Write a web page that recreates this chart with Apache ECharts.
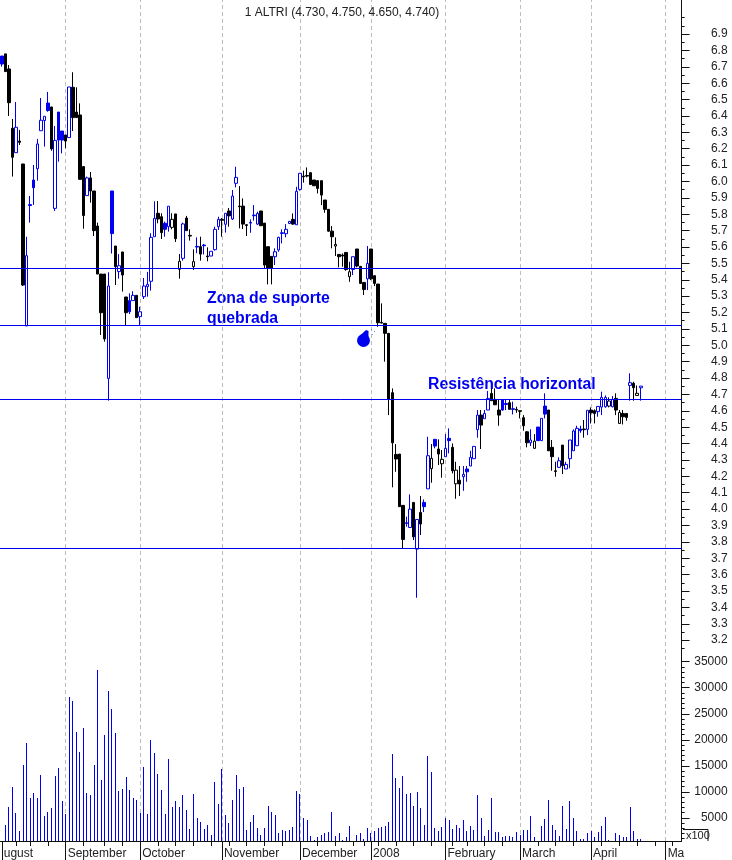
<!DOCTYPE html>
<html><head><meta charset="utf-8">
<script src="https://cdn.jsdelivr.net/npm/echarts@6/dist/echarts.min.js"></script>
<style>html,body{margin:0;padding:0;background:#fff}#c{width:732px;height:860px}</style>
</head><body><div id="c"></div>
<script>
const titleText = '1 ALTRI (4.730, 4.750, 4.650, 4.740)';
const dayCount = 192;
const monthIndex = [0,18,39,62,84,104,125,146,166,187];
const monthNames = ['ugust','September','October','November','December','2008','February','March','April','Ma'];
const weekIndex = [4,8,13,23,29,34,44,49,54,59,64,69,74,79,89,94,99,102,106,111,116,121,127,131,136,141,151,156,161,169,174,179,184,189];
// a blue filled, b blue hollow, k black filled, w black hollow
const styles = 'akkkbkkbaa'+'bbbakbaakb'+'kkkkbkkkkk'+'bakbkkabkb'+'bbbbkkabwk'+'wbkkwakakb'+'bbkbkbbkkk'+'aabkkkkbba'+'bbkbbkkkkk'+'kkkkwkkkwb'+'kkkbkkkkkk'+'kkkkabkbka'+'bwakwbakwk'+'babbbkbbkk'+'kaakakkkkb'+'wabakkkbkb'+'bbbakbkkbb'+'bwbkwkkbkw'+'b';
const highs = [6.766,6.779,6.711,6.382,6.485,6.315,6.107,5.663,5.912,6.101,
6.260,6.510,6.398,6.547,6.455,6.339,6.424,6.308,6.284,6.577,
6.667,6.575,6.477,6.091,6.030,6.058,5.942,5.749,5.435,5.435,
5.446,5.942,5.606,5.557,5.570,5.295,5.317,5.330,5.305,5.236,
5.411,5.448,5.684,5.879,5.881,5.806,5.755,5.849,5.806,5.802,
5.557,5.749,5.790,5.708,5.586,5.659,5.663,5.619,5.598,5.574,
5.724,5.785,5.777,5.806,5.838,5.948,6.090,5.972,5.897,5.740,
5.769,5.856,5.816,5.820,5.746,5.602,5.543,5.592,5.663,5.708,
5.740,5.757,5.805,5.968,6.050,6.066,6.086,6.054,6.009,6.009,
6.005,5.887,5.830,5.728,5.659,5.555,5.561,5.567,5.510,5.541,
5.588,5.482,5.384,5.606,5.588,5.425,5.374,5.256,5.134,5.073,
4.737,4.397,4.336,4.023,3.954,4.090,4.041,3.937,4.080,4.059,
4.442,4.397,4.426,4.426,4.361,4.458,4.493,4.401,4.289,4.263,
4.263,4.263,4.356,4.383,4.605,4.605,4.605,4.721,4.737,4.737,
4.666,4.670,4.670,4.670,4.656,4.625,4.605,4.574,4.477,4.487,
4.458,4.501,4.554,4.707,4.605,4.422,4.289,4.316,4.391,4.289,
4.422,4.487,4.509,4.509,4.544,4.603,4.621,4.609,4.629,4.717,
4.694,4.682,4.690,4.707,4.605,4.605,4.584,4.829,4.778,4.755,4.751];
const bodyTops = [6.766,6.779,6.687,6.325,6.331,6.247,6.107,5.547,5.859,6.009,
6.229,6.374,6.398,6.479,6.455,6.251,6.424,6.308,6.284,6.577,
6.575,6.424,6.406,6.091,6.022,6.022,5.942,5.728,5.435,5.435,
5.362,5.942,5.606,5.486,5.570,5.295,5.273,5.305,5.305,5.205,
5.362,5.372,5.659,5.775,5.806,5.785,5.745,5.849,5.769,5.802,
5.513,5.741,5.777,5.671,5.511,5.604,5.602,5.612,5.545,5.574,
5.708,5.769,5.769,5.806,5.820,5.911,6.025,5.850,5.850,5.736,
5.750,5.795,5.805,5.820,5.746,5.602,5.543,5.571,5.659,5.687,
5.708,5.757,5.769,5.940,6.050,6.033,6.037,6.054,6.009,6.005,
6.005,5.887,5.830,5.697,5.616,5.555,5.551,5.567,5.449,5.541,
5.588,5.482,5.384,5.500,5.588,5.425,5.374,5.140,5.134,5.073,
4.711,4.334,4.336,4.023,3.917,4.000,4.041,3.937,3.980,4.041,
4.326,4.310,4.426,4.367,4.304,4.371,4.432,4.377,4.238,4.177,
4.212,4.245,4.316,4.383,4.574,4.574,4.584,4.676,4.706,4.670,
4.605,4.666,4.645,4.650,4.613,4.609,4.601,4.558,4.472,4.422,
4.415,4.501,4.554,4.629,4.605,4.377,4.234,4.295,4.391,4.273,
4.422,4.477,4.493,4.489,4.489,4.603,4.605,4.601,4.627,4.682,
4.682,4.660,4.670,4.676,4.590,4.584,4.584,4.772,4.768,4.707,4.751];
const bodyBottoms = [6.717,6.671,6.481,6.148,6.176,6.239,5.368,5.118,5.853,5.962,
6.078,6.310,6.372,6.433,6.199,5.836,6.253,6.253,6.247,6.268,
6.390,6.390,6.013,5.792,5.914,5.942,5.700,5.435,5.199,5.039,
4.798,5.682,5.480,5.450,5.429,5.199,5.205,5.273,5.169,5.175,
5.297,5.358,5.391,5.663,5.771,5.688,5.708,5.724,5.720,5.651,
5.464,5.531,5.700,5.667,5.480,5.600,5.557,5.608,5.541,5.545,
5.584,5.724,5.763,5.739,5.790,5.771,5.989,5.846,5.740,5.732,
5.746,5.791,5.740,5.730,5.490,5.470,5.470,5.541,5.582,5.683,
5.681,5.744,5.740,5.736,5.952,6.029,6.033,5.982,5.974,5.958,
5.917,5.830,5.697,5.663,5.606,5.541,5.545,5.463,5.419,5.463,
5.484,5.378,5.341,5.406,5.406,5.378,5.138,5.136,5.073,4.670,
4.405,4.306,4.015,3.815,3.913,3.888,3.831,3.756,3.909,4.015,
4.124,4.247,4.385,4.336,4.277,4.320,4.418,4.234,4.155,4.153,
4.198,4.228,4.263,4.308,4.485,4.513,4.552,4.605,4.662,4.637,
4.574,4.605,4.639,4.609,4.609,4.605,4.597,4.509,4.405,4.405,
4.371,4.418,4.418,4.580,4.356,4.320,4.230,4.255,4.265,4.245,
4.308,4.356,4.387,4.479,4.485,4.487,4.588,4.584,4.595,4.623,
4.625,4.629,4.625,4.605,4.523,4.564,4.560,4.755,4.741,4.694,4.741];
const lows = [6.701,6.671,6.400,6.030,6.176,6.223,5.362,5.118,5.749,5.857,
6.005,6.310,6.213,6.426,6.188,5.820,6.121,6.172,6.203,6.268,
6.308,6.390,6.013,5.712,5.914,5.871,5.667,5.435,5.063,5.022,
4.662,5.560,5.368,5.407,5.328,5.124,5.191,5.273,5.169,5.124,
5.283,5.297,5.334,5.663,5.745,5.649,5.663,5.694,5.708,5.631,
5.407,5.517,5.700,5.639,5.460,5.562,5.517,5.555,5.513,5.545,
5.578,5.704,5.663,5.688,5.724,5.765,5.964,5.714,5.710,5.667,
5.687,5.761,5.734,5.730,5.470,5.372,5.372,5.490,5.571,5.622,
5.659,5.740,5.736,5.736,5.944,5.993,6.025,5.978,5.974,5.927,
5.856,5.809,5.693,5.592,5.545,5.476,5.480,5.455,5.388,5.429,
5.476,5.374,5.307,5.337,5.398,5.362,5.113,5.134,4.900,4.574,
4.133,4.228,4.015,3.760,3.893,3.888,3.811,3.459,3.842,3.982,
4.124,4.161,4.371,4.269,4.192,4.320,4.340,4.218,4.063,4.080,
4.112,4.167,4.263,4.308,4.436,4.367,4.552,4.605,4.662,4.637,
4.509,4.601,4.605,4.609,4.578,4.588,4.554,4.479,4.377,4.385,
4.371,4.418,4.418,4.554,4.356,4.234,4.198,4.255,4.214,4.245,
4.249,4.356,4.387,4.466,4.436,4.452,4.523,4.523,4.564,4.574,
4.619,4.621,4.621,4.574,4.523,4.517,4.540,4.662,4.662,4.694,4.662];
const volumes = [0,3700,7150,11000,6000,2400,15200,19400,8900,9800,
8900,13300,5400,6200,6800,13100,14600,8300,5800,28200,
27500,21500,17700,22300,9800,9300,15200,33400,12300,21000,
29400,25900,21300,10200,10600,12900,10400,8900,8500,6000,
14800,5800,20000,17500,13500,10400,5800,16400,7000,8300,
7000,9300,6600,2900,9500,5000,4300,2900,3700,1800,
11900,7700,14400,5600,4100,8500,13300,10600,11000,2700,
4300,5600,3100,1800,3100,7300,6200,5600,2000,2700,
2400,2600,3300,10200,9500,5000,4500,1600,800,1400,
1800,2000,2200,6200,1600,2000,800,1400,3500,300,
1800,2000,1000,3100,2000,2400,3100,3300,3500,4300,
17300,12700,10800,13100,9500,9800,7200,10000,6800,3700,
16900,13900,3100,2400,3300,4900,4500,2900,3700,3100,
4500,2400,3500,2600,9300,5000,1600,2600,8900,2200,
2200,1400,1600,1600,1400,2200,1800,2700,2700,5400,
1400,0,3500,4700,8500,3700,2700,1600,7200,2900,
8300,4900,2400,1000,1000,2000,2400,1400,2200,3500,
5200,800,0,2000,1800,1400,1400,7000,2400,1000,1000];
const levels = [5.475,5.115,4.67,3.76];
const priceLabels = [3.2,3.3,3.4,3.5,3.6,3.7,3.8,3.9,4.0,4.1,4.2,4.3,4.4,4.5,4.6,4.7,4.8,4.9,5.0,5.1,5.2,5.3,5.4,5.5,5.6,5.7,5.8,5.9,6.0,6.1,6.2,6.3,6.4,6.5,6.6,6.7,6.8,6.9];
const volumeLabels = [5000,10000,15000,20000,25000,30000,35000];

const BLUE = '#0000f0', INK = '#111', GRIDC = '#bdbdbd', VOL_MIN = 555;
const days = Array.from({length: dayCount}, (_, i) => String(i));
function candles(isBlue) {
  return days.map((_, i) => {
    const s = styles[i];
    if (!s || (s === 'a' || s === 'b') !== isBlue) return ['-','-','-','-'];
    const hollow = s === 'b' || s === 'w';
    return hollow ? [bodyBottoms[i], bodyTops[i], lows[i], highs[i]] : [bodyTops[i], bodyBottoms[i], lows[i], highs[i]];
  });
}
function candleStyle(c) {
  return {color:'#fff', color0:c, borderColor:c, borderColor0:c, borderWidth:1};
}
const monthLine = {
  silent:true, symbol:'none', z:1, animation:false, label:{show:false},
  lineStyle:{color:GRIDC, type:[4,3], width:1},
  data: monthIndex.slice(1).map(i => ({xAxis:String(i)}))
};
const minorPrice = [];
for (let k = 63; k <= 140; k++) if (k % 2 === 1 || k === 140) minorPrice.push(k * 0.05);
const minorVol = [];
for (let v = 1000; v <= 35000; v += 1000) if (v % 5000) minorVol.push(v);

const baseX = {type:'category', data:days, boundaryGap:true, axisLabel:{show:false}, axisTick:{show:false}, splitLine:{show:false}};
const inkLine = {show:true, onZero:false, lineStyle:{color:INK, width:1}};

const chart = echarts.init(document.getElementById('c'), null, {renderer:'canvas'});
chart.setOption({
  animation:false, backgroundColor:'#fff',
  title:{text:titleText, left:337, top:2, textAlign:'center', textStyle:{fontFamily:'Liberation Sans', fontSize:12, fontWeight:'normal', color:'#222'}},
  grid:[{left:0, top:0, width:681.6, height:660},{left:0, top:660, width:681.6, height:181.5}],
  xAxis:[
    Object.assign({}, baseX, {gridIndex:0, axisLine:{show:false}}),
    Object.assign({}, baseX, {gridIndex:1, position:'bottom', axisLine:inkLine,
      axisTick:{show:true, alignWithLabel:true, length:5, lineStyle:{color:INK}, interval:(i)=>weekIndex.includes(i)}}),
    Object.assign({}, baseX, {gridIndex:1, position:'bottom', axisLine:{show:false},
      axisTick:{show:true, alignWithLabel:true, length:19, lineStyle:{color:INK}, interval:(i)=>monthIndex.includes(i)},
      axisLabel:{show:true, align:'left', margin:7, padding:[0,0,0,2], color:'#222', fontFamily:'Liberation Sans', fontSize:12,
        hideOverlap:false, interval:(i)=>monthIndex.includes(i),
        formatter:(v)=>monthNames[monthIndex.indexOf(+v)]}})
  ],
  yAxis:[
    {type:'value', gridIndex:0, position:'right', min:3.079, max:7.108, axisLine:inkLine, splitLine:{show:false},
      axisTick:{show:true, length:8, lineStyle:{color:INK}, customValues:priceLabels},
      axisLabel:{show:true, align:'right', margin:46, padding:[2,0,0,0], color:'#222', fontFamily:'Liberation Sans', fontSize:12, customValues:priceLabels, formatter:(v)=>v.toFixed(1)}},
    {type:'value', gridIndex:0, position:'right', min:3.079, max:7.108, axisLine:{show:false}, splitLine:{show:false},
      axisTick:{show:true, length:3, lineStyle:{color:INK}, customValues:minorPrice}, axisLabel:{show:false}},
    {type:'value', gridIndex:1, position:'right', min:VOL_MIN, max:35326, axisLine:inkLine, splitLine:{show:false},
      axisTick:{show:true, length:8, lineStyle:{color:INK}, customValues:volumeLabels},
      axisLabel:{show:true, align:'right', margin:46, padding:[2,0,0,0], color:'#222', fontFamily:'Liberation Sans', fontSize:12, customValues:volumeLabels, formatter:(v)=>String(v)}},
    {type:'value', gridIndex:1, position:'right', min:VOL_MIN, max:35326, axisLine:{show:false}, splitLine:{show:false},
      axisTick:{show:true, length:3, lineStyle:{color:INK}, customValues:minorVol}, axisLabel:{show:false}}
  ],
  series:[
    {type:'candlestick', name:'black', xAxisIndex:0, yAxisIndex:0, barWidth:3, data:candles(false), itemStyle:candleStyle('#000'), markLine:monthLine, z:3, silent:true},
    {type:'candlestick', name:'blue', xAxisIndex:0, yAxisIndex:0, barWidth:3, data:candles(true), itemStyle:candleStyle(BLUE), z:3, silent:true,
      markLine:{silent:true, symbol:'none', z:6, animation:false, label:{show:false}, lineStyle:{color:BLUE, type:'solid', width:1}, data:levels.map(v=>({yAxis:v}))}},
    {type:'custom', name:'volume', xAxisIndex:1, yAxisIndex:2, data:volumes.map((v,i)=>[i,v]), encode:{x:0,y:1}, markLine:monthLine, z:3, silent:true,
      renderItem:(params, api)=>{
        const v = api.value(1);
        if (v <= VOL_MIN) return null;
        const top = api.coord([api.value(0), v]);
        const base = api.coord([api.value(0), VOL_MIN]);
        return {type:'rect', shape:{x:Math.floor(top[0]), y:Math.round(top[1]), width:1, height:Math.round(base[1])-Math.round(top[1])}, style:{fill:BLUE}};
      }}
  ],
  graphic:[
    {type:'text', left:207, top:291, silent:true, style:{text:'Zona de suporte', fill:BLUE, font:'bold 15.8px "Liberation Sans"'}},
    {type:'text', left:207, top:311, silent:true, style:{text:'quebrada', fill:BLUE, font:'bold 15.8px "Liberation Sans"'}},
    {type:'text', left:428, top:377, silent:true, style:{text:'Resistência horizontal', fill:BLUE, font:'bold 15.8px "Liberation Sans"'}},
    {type:'circle', shape:{cx:363.5, cy:340.5, r:6.5}, style:{fill:BLUE}, silent:true, z:7},
    {type:'polygon', shape:{points:[[358.5,337],[366,330],[368.5,331],[368.5,338]]}, style:{fill:BLUE}, silent:true, z:7},
    {type:'rect', shape:{x:371,y:329,width:1,height:1}, style:{fill:'#7f7ff2'}, silent:true, z:7},
    {type:'rect', shape:{x:374,y:331,width:1,height:1}, style:{fill:'#7f7ff2'}, silent:true, z:7},
    {type:'rect', shape:{x:372,y:334,width:1,height:1}, style:{fill:'#a0a0f5'}, silent:true, z:7},
    {type:'polyline', shape:{points:[[683,829.5],[708,829.5],[708,841]]}, style:{stroke:INK, fill:null, lineWidth:1}, silent:true},
    {type:'text', left:686, top:830, silent:true, style:{text:'x100', fill:'#222', font:'11px "Liberation Sans"'}}
  ]
});
</script></body></html>
